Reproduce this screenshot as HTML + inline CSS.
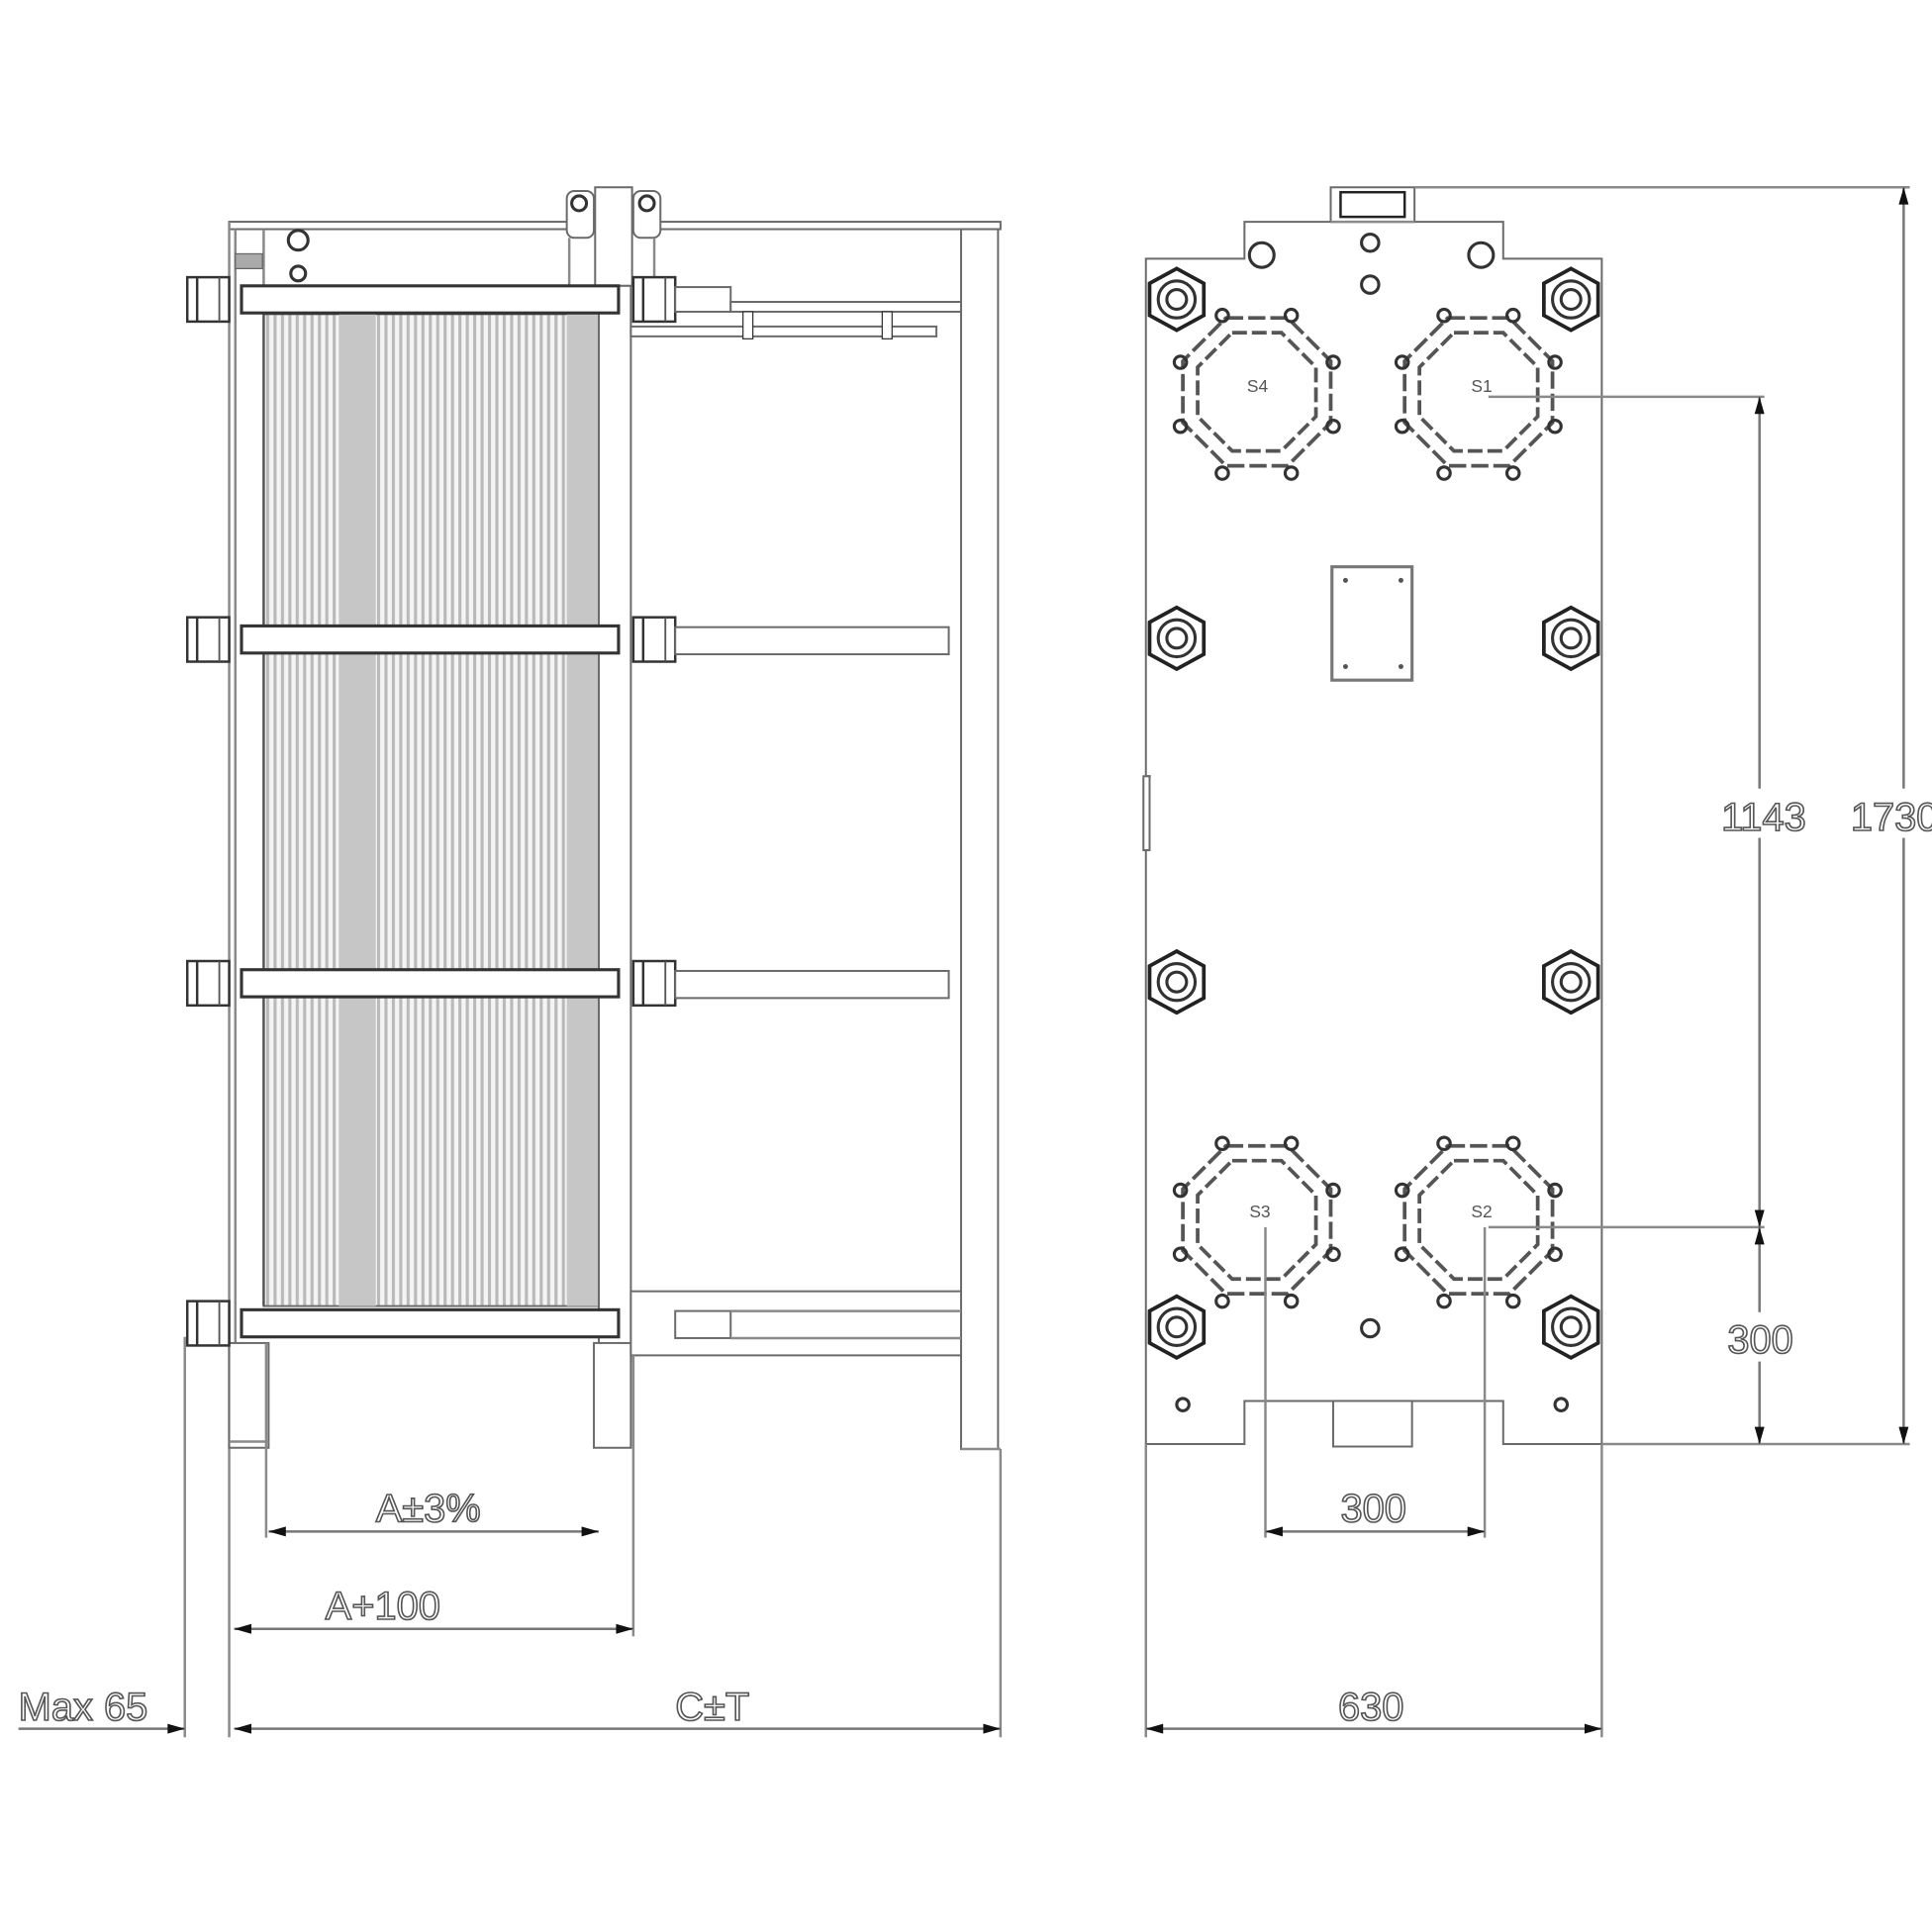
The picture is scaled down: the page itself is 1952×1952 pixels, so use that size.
<!DOCTYPE html>
<html><head><meta charset="utf-8"><style>
html,body{margin:0;padding:0;background:#fff;}
svg{display:block}
.l{stroke:#8a8a8a;stroke-width:2;fill:none}
.f{stroke:#6a6a6a;stroke-width:1.6;fill:#fff}
.d{stroke:#777;stroke-width:2;fill:none}
.t{font-family:"Liberation Sans",sans-serif;font-size:32px;fill:#fff;stroke:#555;stroke-width:1.3}
.k{stroke:#333;stroke-width:2.5;fill:none}
</style></head><body>
<svg width="1952" height="1952" viewBox="0 0 1568 1568" xmlns="http://www.w3.org/2000/svg">
<defs>
<pattern id="pl" width="6" height="10" patternUnits="userSpaceOnUse"><rect width="6" height="10" fill="#f4f4f4"/><rect width="2.5" height="10" fill="#b9b9b9"/></pattern>
<g id="nut"><polygon points="-22,-13 0,-25 22,-13 22,13 0,25 -22,13" fill="#fff" stroke="#222" stroke-width="3"/><circle r="15" class="k"/><circle r="8" class="k"/></g>
<g id="port">
<polygon points="-25,-60 25,-60 60,-25 60,25 25,60 -25,60 -60,25 -60,-25" fill="none" stroke="#555" stroke-width="3" stroke-dasharray="14 4"/>
<polygon points="-20,-48 20,-48 48,-20 48,20 20,48 -20,48 -48,20 -48,-20" fill="none" stroke="#555" stroke-width="3" stroke-dasharray="12 4"/>
<circle cx="-28" cy="-62" r="5" class="k"/><circle cx="28" cy="-62" r="5" class="k"/>
<circle cx="-62" cy="-24" r="5" class="k"/><circle cx="62" cy="-24" r="5" class="k"/>
<circle cx="-62" cy="28" r="5" class="k"/><circle cx="62" cy="28" r="5" class="k"/>
<circle cx="-28" cy="66" r="5" class="k"/><circle cx="28" cy="66" r="5" class="k"/>
</g>
<g id="lnut"><rect x="0" y="-18" width="34" height="36" fill="#fff" stroke="#333" stroke-width="2"/><line x1="8" y1="-18" x2="8" y2="18" stroke="#333" stroke-width="2"/><line x1="26" y1="-18" x2="26" y2="18" stroke="#555" stroke-width="1.5"/></g>
</defs>

<!-- LEFT VIEW -->
<rect x="186" y="180" width="626" height="6" class="f"/>
<line x1="186" y1="180" x2="186" y2="1410" class="l"/>
<line x1="191" y1="186" x2="191" y2="1175" class="l"/>
<line x1="214" y1="186" x2="214" y2="232" class="l"/>
<rect x="191" y="206" width="22" height="12" fill="#aaa" stroke="#666"/>
<circle cx="242" cy="195" r="8" class="k" stroke-width="1.5"/>
<circle cx="242" cy="222" r="6" class="k" stroke-width="1.5"/>
<!-- top carrier -->
<rect x="483" y="152" width="30" height="80" class="f"/>
<rect x="460" y="155" width="22" height="38" rx="6" class="f"/>
<rect x="514" y="155" width="22" height="38" rx="6" class="f"/>
<circle cx="470" cy="165" r="6" class="k"/><circle cx="525" cy="165" r="6" class="k"/>
<line x1="462" y1="193" x2="462" y2="232" class="l"/><line x1="531" y1="193" x2="531" y2="232" class="l"/>
<!-- right column -->
<rect x="780" y="186" width="30" height="990" class="f"/>
<line x1="812" y1="1176" x2="812" y2="1410" class="l"/>
<line x1="780" y1="1176" x2="812" y2="1176" class="l"/>
<!-- plate pack -->
<rect x="214" y="255" width="272" height="805" fill="url(#pl)" stroke="#666" stroke-width="1.5"/>
<rect x="275" y="255" width="30" height="805" fill="#c6c6c6"/>
<rect x="460" y="255" width="26" height="805" fill="#c6c6c6"/>
<line x1="214" y1="255" x2="214" y2="1060" stroke="#555" stroke-width="2"/>
<!-- pressure plate -->
<rect x="486" y="232" width="26" height="873" class="f"/>
<rect x="482" y="1090" width="30" height="85" class="f"/>
<rect x="186" y="1090" width="32" height="85" class="f"/>
<line x1="186" y1="1170" x2="218" y2="1170" class="l"/>
<!-- bars -->
<g>
<rect x="196" y="232" width="306" height="22" fill="#fff" stroke="#333" stroke-width="2.5"/>
<rect x="196" y="508" width="306" height="22" fill="#fff" stroke="#333" stroke-width="2.5"/>
<rect x="196" y="787" width="306" height="22" fill="#fff" stroke="#333" stroke-width="2.5"/>
<rect x="196" y="1063" width="306" height="22" fill="#fff" stroke="#333" stroke-width="2.5"/>
</g>
<use href="#lnut" x="152" y="243"/><use href="#lnut" x="152" y="519"/><use href="#lnut" x="152" y="798"/><use href="#lnut" x="152" y="1074"/>
<use href="#lnut" x="514" y="243"/><use href="#lnut" x="514" y="519"/><use href="#lnut" x="514" y="798"/><use href="#lnut" x="514" y="1074"/>
<!-- rods -->
<rect x="548" y="233" width="45" height="20" class="f"/>
<rect x="593" y="245" width="187" height="8" class="f"/>
<rect x="512" y="265" width="248" height="8" class="f"/>
<rect x="603" y="253" width="8" height="22" fill="#fff" stroke="#333"/><rect x="716" y="253" width="8" height="22" fill="#fff" stroke="#333"/>
<rect x="548" y="509" width="222" height="22" class="f"/>
<rect x="548" y="788" width="222" height="22" class="f"/>
<rect x="512" y="1048" width="268" height="52" class="f"/>
<rect x="548" y="1064" width="45" height="22" class="f"/>
<line x1="593" y1="1064" x2="780" y2="1064" class="l"/>
<line x1="593" y1="1086" x2="780" y2="1086" class="l"/>

<!-- left dims -->
<line x1="216" y1="1090" x2="216" y2="1248" class="l"/>
<line x1="218" y1="1243" x2="486" y2="1243" class="d"/>
<line x1="514" y1="1100" x2="514" y2="1328" class="l"/>
<line x1="190" y1="1322" x2="514" y2="1322" class="d"/>
<line x1="150" y1="1085" x2="150" y2="1410" class="l"/>
<line x1="15" y1="1403" x2="150" y2="1403" class="d"/>
<line x1="190" y1="1403" x2="812" y2="1403" class="d"/>
<g fill="#111"><path d="M218 1243 l14 -4 v8z"/><path d="M486 1243 l-14 -4 v8z"/><path d="M190 1322 l14 -4 v8z"/><path d="M514 1322 l-14 -4 v8z"/><path d="M150 1403 l-14 -4 v8z"/><path d="M190 1403 l14 -4 v8z"/><path d="M812 1403 l-14 -4 v8z"/></g>
<text class="t" x="305" y="1235">A±3%</text>
<text class="t" x="264" y="1314">A+100</text>
<text class="t" x="15" y="1396">Max 65</text>
<text class="t" x="548" y="1396">C±T</text>

<!-- RIGHT VIEW -->
<path d="M930 210 H1010 V180 H1080 V152 H1148 V180 H1220 V210 H1300 V1172 H1220 V1137 H1010 V1172 H930 Z" class="f" stroke="#777" stroke-width="2"/>
<line x1="1080" y1="180" x2="1148" y2="180" class="l"/>
<rect x="1088" y="156" width="52" height="20" fill="#fff" stroke="#222" stroke-width="2"/>
<circle cx="1024" cy="207" r="10" class="k"/><circle cx="1202" cy="207" r="10" class="k"/>
<circle cx="1112" cy="197" r="7" class="k"/><circle cx="1112" cy="231" r="7" class="k"/><circle cx="1112" cy="1078" r="7" class="k"/>
<rect x="1082" y="1137" width="64" height="37" class="f"/>
<circle cx="960" cy="1140" r="5" class="k" stroke-width="1.5"/><circle cx="1267" cy="1140" r="5" class="k" stroke-width="1.5"/>
<line x1="930" y1="630" x2="934" y2="630" class="l"/><rect x="928" y="630" width="5" height="60" class="f"/>
<use href="#port" x="1020" y="318"/><use href="#port" x="1200" y="318"/>
<use href="#port" x="1020" y="990"/><use href="#port" x="1200" y="990"/>
<text x="1012" y="318" font-family="Liberation Sans,sans-serif" font-size="14" fill="#555">S4</text>
<text x="1194" y="318" font-family="Liberation Sans,sans-serif" font-size="14" fill="#555">S1</text>
<text x="1014" y="988" font-family="Liberation Sans,sans-serif" font-size="14" fill="#555">S3</text>
<text x="1194" y="988" font-family="Liberation Sans,sans-serif" font-size="14" fill="#555">S2</text>
<use href="#nut" x="955" y="243"/><use href="#nut" x="1275" y="243"/>
<use href="#nut" x="955" y="518"/><use href="#nut" x="1275" y="518"/>
<use href="#nut" x="955" y="797"/><use href="#nut" x="1275" y="797"/>
<use href="#nut" x="955" y="1077"/><use href="#nut" x="1275" y="1077"/>
<rect x="1081" y="460" width="65" height="92" fill="#fff" stroke="#777" stroke-width="2.5"/>
<circle cx="1092" cy="471" r="2" fill="#555"/><circle cx="1137" cy="471" r="2" fill="#555"/><circle cx="1092" cy="541" r="2" fill="#555"/><circle cx="1137" cy="541" r="2" fill="#555"/>
<!-- right dims -->
<line x1="1208" y1="322" x2="1432" y2="322" class="l"/>
<line x1="1208" y1="996" x2="1432" y2="996" class="l"/>
<line x1="1148" y1="152" x2="1550" y2="152" class="l"/>
<line x1="1300" y1="1172" x2="1550" y2="1172" class="l"/>
<line x1="1428" y1="322" x2="1428" y2="1172" class="d"/>
<line x1="1545" y1="152" x2="1545" y2="1172" class="d"/>
<line x1="1027" y1="996" x2="1027" y2="1248" class="l"/>
<line x1="1205" y1="996" x2="1205" y2="1248" class="l"/>
<line x1="1027" y1="1243" x2="1205" y2="1243" class="d"/>
<line x1="930" y1="1172" x2="930" y2="1410" class="l"/>
<line x1="1300" y1="1172" x2="1300" y2="1410" class="l"/>
<line x1="930" y1="1403" x2="1300" y2="1403" class="d"/>
<g fill="#111"><path d="M1428 322 l-4 14 h8z"/><path d="M1428 996 l-4 -14 h8z"/><path d="M1428 996 l-4 14 h8z"/><path d="M1428 1172 l-4 -14 h8z"/><path d="M1545 152 l-4 14 h8z"/><path d="M1545 1172 l-4 -14 h8z"/><path d="M1027 1243 l14 -4 v8z"/><path d="M1205 1243 l-14 -4 v8z"/><path d="M930 1403 l14 -4 v8z"/><path d="M1300 1403 l-14 -4 v8z"/></g>
<rect x="1396" y="640" width="66" height="40" fill="#fff"/>
<text class="t" x="1397" y="674">1143</text>
<rect x="1502" y="640" width="66" height="40" fill="#fff"/>
<text class="t" x="1502" y="674">1730</text>
<rect x="1400" y="1065" width="58" height="40" fill="#fff"/>
<text class="t" x="1402" y="1098">300</text>
<text class="t" x="1088" y="1235">300</text>
<text class="t" x="1086" y="1396">630</text>
</svg>
</body></html>
